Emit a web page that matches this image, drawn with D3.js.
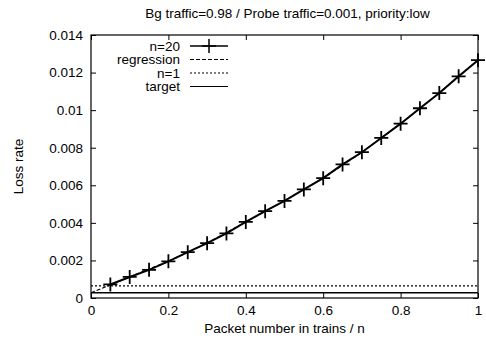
<!DOCTYPE html>
<html>
<head>
<meta charset="utf-8">
<script src="https://cdn.jsdelivr.net/npm/d3@7"></script>
<style>
  body { margin: 0; background: #fff; }
  svg { font-family: "Liberation Sans", Arial, sans-serif; }
</style>
</head>
<body>
<div id="chart"></div>
<script>
// data
const xN20 = [0.05, 0.1, 0.15, 0.2, 0.25, 0.3, 0.35, 0.4, 0.45, 0.5,
              0.55, 0.6, 0.65, 0.7, 0.75, 0.8, 0.85, 0.9, 0.95, 1.0];
const lossN20 = [0.00072, 0.00112, 0.00150, 0.00195, 0.00244, 0.00292, 0.00344, 0.00405, 0.00462, 0.00517,
                 0.00578, 0.00638, 0.00711, 0.00776, 0.00852, 0.00928, 0.01010, 0.01091, 0.01180, 0.01266];
const xRegression = [0, 0.05, 0.1, 0.2, 0.3, 0.4, 0.5, 0.6, 0.7, 0.8, 0.9, 1.0];
const lossRegression = [0.00028, 0.00070, 0.00112, 0.00195, 0.00292, 0.00405, 0.00517, 0.00638, 0.00776, 0.00928, 0.01091, 0.01266];
const lossN1 = 0.00065;
const lossTarget = 0.00028;
const xTicks = [0, 0.2, 0.4, 0.6, 0.8, 1];
const yTicks = [0, 0.002, 0.004, 0.006, 0.008, 0.01, 0.012, 0.014];
const legendNames = ["n=20", "regression", "n=1", "target"];

const W = 486, H = 344;
const margin = {top: 35, right: 8, bottom: 46, left: 91};
const width = W - margin.left - margin.right;
const height = H - margin.top - margin.bottom;
const fs = 13.5;

const svg = d3.select("#chart").append("svg")
    .attr("width", W)
    .attr("height", H);

const g = svg.append("g")
    .attr("transform", `translate(${margin.left},${margin.top})`);

const x = d3.scaleLinear().domain([0, 1]).range([0, width]);
const y = d3.scaleLinear().domain([0, 0.014]).range([height, 0]);

// axes with inward ticks, mirrored on top/right
const fmtX = d => d === 0 ? "0" : d === 1 ? "1" : d3.format(".1f")(d);
const fmtY = d => d === 0 ? "0" : String(+d.toFixed(3));

g.append("g").attr("transform", `translate(0,${height})`)
    .call(d3.axisBottom(x).tickValues(xTicks).tickFormat(fmtX).tickSizeInner(-5).tickSizeOuter(0).tickPadding(7));
g.append("g")
    .call(d3.axisTop(x).tickValues(xTicks).tickFormat("").tickSizeInner(-5).tickSizeOuter(0));
g.append("g")
    .call(d3.axisLeft(y).tickValues(yTicks).tickFormat(fmtY).tickSizeInner(-5).tickSizeOuter(0).tickPadding(8));
g.append("g").attr("transform", `translate(${width},0)`)
    .call(d3.axisRight(y).tickValues(yTicks).tickFormat("").tickSizeInner(-5).tickSizeOuter(0));

g.selectAll(".domain").remove();
g.selectAll(".tick line").attr("stroke", "#000").attr("stroke-width", 1);
g.selectAll(".tick text").attr("font-size", fs).attr("fill", "#000")
    .attr("font-family", "Liberation Sans, Arial, sans-serif");

g.append("rect")
    .attr("width", width).attr("height", height)
    .attr("fill", "none").attr("stroke", "#000").attr("stroke-width", 1.2);

// series
const line = d3.line().x(d => x(d[0])).y(d => y(d[1]));

g.append("path")
    .datum(xRegression.map((v, i) => [v, lossRegression[i]]))
    .attr("d", line).attr("fill", "none")
    .attr("stroke", "#000").attr("stroke-width", 1.2).attr("stroke-dasharray", "4,2");

g.append("path")
    .datum([[0, lossN1], [1, lossN1]])
    .attr("d", line).attr("fill", "none")
    .attr("stroke", "#000").attr("stroke-width", 1.2).attr("stroke-dasharray", "2,2");

g.append("path")
    .datum([[0, lossTarget], [1, lossTarget]])
    .attr("d", line).attr("fill", "none")
    .attr("stroke", "#000").attr("stroke-width", 1.5);

const n20 = xN20.map((v, i) => [v, lossN20[i]]);
g.append("path")
    .datum(n20)
    .attr("d", line).attr("fill", "none")
    .attr("stroke", "#000").attr("stroke-width", 2);

const plusPath = (s) => `M${-s},0H${s}M0,${-s}V${s}`;
g.selectAll(".pt").data(n20).join("path")
    .attr("class", "pt")
    .attr("transform", d => `translate(${x(d[0])},${y(d[1])})`)
    .attr("d", plusPath(7))
    .attr("stroke", "#000").attr("stroke-width", 1.8).attr("fill", "none");

// legend
const legend = g.append("g");
const legendY = [11, 24.5, 38, 51.5];
const dashes = [null, "4,2", "2,2", null];
legendNames.forEach((name, i) => {
    legend.append("text")
        .attr("x", 89).attr("y", legendY[i]).attr("dy", "0.35em")
        .attr("text-anchor", "end").attr("font-size", fs).text(name);
    legend.append("line")
        .attr("x1", 99).attr("x2", 137)
        .attr("y1", legendY[i]).attr("y2", legendY[i])
        .attr("stroke", "#000")
        .attr("stroke-width", i === 0 ? 1.5 : 1.2)
        .attr("stroke-dasharray", dashes[i]);
});
legend.append("path")
    .attr("transform", `translate(118,${legendY[0]})`)
    .attr("d", plusPath(7))
    .attr("stroke", "#000").attr("stroke-width", 1.5);

// titles
svg.append("text")
    .attr("x", margin.left + width / 2 + 3).attr("y", 18)
    .attr("text-anchor", "middle").attr("font-size", fs)
    .text("Bg traffic=0.98 / Probe traffic=0.001, priority:low");

svg.append("text")
    .attr("x", margin.left + width / 2).attr("y", 333)
    .attr("text-anchor", "middle").attr("font-size", fs)
    .text("Packet number in trains / n");

svg.append("text")
    .attr("transform", `translate(23,${margin.top + height / 2}) rotate(-90)`)
    .attr("text-anchor", "middle").attr("font-size", fs)
    .text("Loss rate");
</script>
</body>
</html>
